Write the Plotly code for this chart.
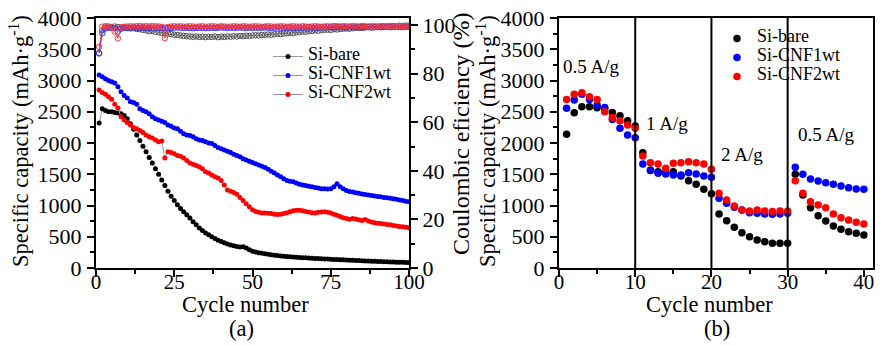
import plotly.graph_objects as go

# ---------------- data: panel (a) ----------------
cycles_a = list(range(1, 101))

cap_bare = [2320, 2550, 2520, 2500, 2500, 2490, 2480, 2470, 2440, 2390,
            2310, 2220, 2130, 2040, 1950, 1860, 1770, 1680, 1590, 1500,
            1410, 1320, 1230, 1150, 1080, 1010, 950, 900, 850, 800,
            740, 690, 640, 600, 560, 530, 500, 470, 445, 425,
            405, 385, 368, 355, 345, 335, 340, 320, 290, 268,
            255, 245, 235, 228, 220, 212, 205, 198, 192, 188,
            184, 180, 176, 172, 168, 165, 162, 160, 156, 152,
            150, 147, 145, 142, 140, 137, 135, 132, 130, 128,
            125, 123, 120, 118, 115, 113, 111, 109, 106, 104,
            102, 100, 98, 96, 95, 93, 91, 90, 88, 86]

cap_cnf1 = [3090, 3060, 3030, 3000, 2980, 2960, 2900, 2820, 2760, 2720,
            2660, 2650, 2620, 2550, 2520, 2500, 2470, 2420, 2390, 2370,
            2350, 2330, 2290, 2270, 2240, 2230, 2190, 2150, 2130, 2120,
            2100, 2070, 2050, 2040, 2020, 2000, 1990, 1960, 1930, 1910,
            1890, 1870, 1850, 1820, 1800, 1780, 1750, 1730, 1710, 1690,
            1670, 1650, 1630, 1610, 1580, 1550, 1520, 1490, 1460, 1430,
            1400, 1390, 1380, 1360, 1340, 1330, 1320, 1310, 1300, 1290,
            1280, 1270, 1270, 1265, 1270, 1300, 1350, 1300, 1270, 1240,
            1225, 1215, 1205, 1195, 1185, 1175, 1168, 1160, 1152, 1145,
            1140, 1130, 1125, 1118, 1110, 1100, 1090, 1080, 1070, 1060]

cap_cnf2 = [2850, 2810, 2780, 2740, 2700, 2620, 2560, 2420, 2370, 2330,
            2290, 2250, 2230, 2200, 2170, 2130, 2100, 2080, 2050, 2020,
            2030, 1760, 1860, 1850, 1830, 1800, 1790, 1760, 1720, 1680,
            1660, 1640, 1620, 1590, 1540, 1520, 1490, 1460, 1440, 1400,
            1330, 1250, 1230, 1210, 1180, 1130, 1080, 1030, 980, 930,
            905, 890, 880, 880, 875, 870, 860, 855, 860, 870,
            885, 900, 915, 925, 925, 915, 905, 895, 885, 880,
            890, 895, 900, 890, 880, 860, 845, 825, 805, 790,
            780, 790, 785, 770, 760, 775, 750, 735, 725, 715,
            710, 705, 695, 690, 680, 670, 665, 660, 650, 645]

ce_bare = [88.5, 97.8, 99.0, 99.3, 99.0, 99.4, 99.2, 98.9, 99.0, 98.8,
           98.6, 98.7, 98.4, 98.3, 98.0, 97.8, 97.5, 97.6, 97.2, 97.0,
           96.8, 96.6, 96.5, 96.3, 96.0, 95.9, 95.7, 95.5, 95.4, 95.3,
           95.2, 95.3, 95.1, 95.2, 95.0, 95.2, 95.1, 95.3, 95.0, 95.2,
           95.1, 95.3, 95.2, 95.4, 95.3, 95.5, 95.4, 95.6, 95.5, 95.7,
           95.8, 95.7, 95.9, 96.0, 96.1, 96.0, 96.2, 96.4, 96.3, 96.5,
           96.6, 96.8, 96.7, 97.0, 97.1, 97.3, 97.2, 97.5, 97.6, 97.8,
           97.7, 97.9, 98.0, 98.1, 98.0, 98.3, 98.2, 98.4, 98.5, 98.6,
           98.5, 98.7, 98.8, 98.9, 98.8, 99.0, 99.1, 99.0, 99.2, 99.3,
           99.2, 99.4, 99.3, 99.5, 99.6, 99.4, 99.7, 99.6, 99.8, 99.7]

ce_cnf1 = [88.3, 96.6, 98.6, 98.8, 98.9, 98.7, 97.3, 98.5, 98.8, 98.9,
           98.9, 99.0, 98.8, 98.9, 99.0, 98.9, 98.8, 98.9, 99.0, 98.9,
           98.8, 98.9, 98.7, 98.8, 98.9, 99.0, 98.9, 98.8, 98.9, 98.8,
           98.7, 98.8, 98.9, 98.8, 98.7, 98.8, 98.9, 98.8, 98.9, 99.0,
           98.9, 98.8, 98.9, 98.8, 98.9, 99.0, 98.9, 98.8, 98.9, 98.8,
           98.9, 98.8, 98.9, 99.0, 98.9, 98.8, 98.9, 99.0, 98.9, 98.8,
           98.9, 99.0, 98.9, 98.8, 99.0, 98.9, 99.0, 99.1, 99.0, 98.9,
           99.0, 99.1, 99.0, 99.2, 99.1, 99.0, 99.1, 99.2, 99.1, 99.0,
           99.1, 99.2, 99.1, 99.0, 99.2, 99.1, 99.2, 99.0, 99.1, 99.2,
           99.1, 99.2, 99.3, 99.1, 99.2, 99.3, 99.2, 99.1, 99.2, 99.3]

ce_cnf2 = [91.0, 99.3, 99.5, 99.4, 99.2, 97.3, 94.5, 99.0, 99.3, 99.4,
           99.5, 99.4, 99.5, 99.6, 99.4, 99.5, 99.4, 99.6, 99.5, 99.4,
           99.3, 94.6, 99.2, 99.4, 99.5, 99.4, 99.5, 99.3, 99.4, 99.5,
           99.4, 99.3, 99.4, 99.5, 99.3, 99.4, 99.5, 99.4, 99.3, 99.5,
           99.4, 99.3, 99.4, 99.5, 99.4, 99.3, 99.5, 99.4, 99.3, 99.4,
           99.5, 99.4, 99.3, 99.4, 99.5, 99.4, 99.3, 99.4, 99.5, 99.4,
           99.3, 99.4, 99.5, 99.4, 99.3, 99.5, 99.4, 99.3, 99.4, 99.5,
           99.4, 99.3, 99.4, 99.5, 99.4, 99.6, 99.5, 99.4, 99.6, 99.5,
           99.4, 99.6, 99.5, 99.4, 99.6, 99.5, 99.4, 99.6, 99.5, 99.4,
           99.6, 99.5, 99.4, 99.6, 99.5, 99.4, 99.6, 99.5, 99.4, 99.5]

# ---------------- data: panel (b) ----------------
cycles_b = list(range(1, 41))
rate_bare = [2140, 2485, 2580, 2580, 2565, 2545, 2490, 2437, 2357, 2272,
             1845, 1560, 1540, 1530, 1540, 1472, 1395, 1340, 1260, 1190,
             864, 757, 651, 565, 501, 448, 421, 395, 395, 395,
             1499, 1168, 965, 837, 752, 672, 619, 581, 555, 528]
rate_cnf1 = [2555, 2688, 2779, 2698, 2608, 2570, 2378, 2235, 2128, 2085,
             1664, 1568, 1515, 1504, 1488, 1488, 1525, 1504, 1472, 1451,
             1115, 1035, 971, 928, 885, 875, 864, 859, 864, 875,
             1611, 1499, 1424, 1392, 1365, 1339, 1312, 1285, 1264, 1259]
rate_cnf2 = [2698, 2779, 2805, 2741, 2698, 2501, 2410, 2357, 2288, 2235,
             1792, 1685, 1664, 1595, 1675, 1685, 1701, 1685, 1664, 1579,
             1195, 1088, 992, 928, 912, 928, 912, 902, 912, 912,
             1397, 1195, 1061, 1008, 965, 864, 805, 768, 731, 704]

series_names = ["Si-bare", "Si-CNF1wt", "Si-CNF2wt"]
series_colors = ["#000000", "#0000FF", "#FF0000"]
ce_colors = ["#555555", "#3333FF", "#FF3333"]
rate_labels = ["0.5 A/g", "1 A/g", "2 A/g", "0.5 A/g"]
rate_label_x = [4.2, 14.2, 24.0, 35.0]
rate_label_y = [3230, 2320, 1810, 2130]
rate_boundaries = [10, 20, 30]
panel_labels = ["(a)", "(b)"]
x_title = "Cycle number"
cap_title = "Specific capacity (mAh·g<sup>-1</sup>)"
ce_title = "Coulombic eficiency (%)"

FONT = "Liberation Serif"
W, H = 883, 346

def px_x(p):
    return p / W

def px_y(p):
    return 1 - p / H

fig = go.Figure()

caps = [cap_bare, cap_cnf1, cap_cnf2]
ces = [ce_bare, ce_cnf1, ce_cnf2]
rates = [rate_bare, rate_cnf1, rate_cnf2]

def legend_name(n):
    return '<span style="font-size:18px">' + n + '</span>'

# CE (open circles) on secondary axis
for name, col, ce in zip(series_names, ce_colors, ces):
    fig.add_trace(go.Scatter(
        x=cycles_a, y=ce, xaxis="x", yaxis="y2", mode="lines+markers",
        line=dict(color=col, width=0.8),
        marker=dict(symbol="circle-open", size=5.5, color=col, line=dict(width=1)),
        showlegend=False, name=name + " CE"))

# capacity (filled circles, gray lines)
for name, col, cap in zip(series_names, series_colors, caps):
    fig.add_trace(go.Scatter(
        x=cycles_a, y=cap, xaxis="x", yaxis="y", mode="lines+markers",
        line=dict(color="#999999", width=1),
        marker=dict(symbol="circle", size=5, color=col),
        name=legend_name(name), legend="legend"))

# rate capability
for name, col, r in zip(series_names, series_colors, rates):
    fig.add_trace(go.Scatter(
        x=cycles_b, y=r, xaxis="x3", yaxis="y3", mode="markers",
        marker=dict(symbol="circle", size=7.5, color=col),
        name=legend_name(name), legend="legend2"))

yfont = dict(family=FONT, size=22, color="black")
xfont = dict(family=FONT, size=21, color="black")

common = dict(showline=True, linecolor="black", linewidth=2.2, ticks="outside",
              ticklen=7, tickwidth=2, tickcolor="black", showgrid=False,
              zeroline=False, automargin=False, ticklabeloverflow="allow")

def minor(d):
    return dict(dtick=d, ticks="outside", ticklen=4, tickwidth=1.5,
                tickcolor="black", showgrid=False)

leg_font = dict(family=FONT, size=8, color="black")

fig.update_layout(
    width=W, height=H, margin=dict(l=0, r=0, t=0, b=0),
    paper_bgcolor="white", plot_bgcolor="white",
    font=dict(family=FONT, color="black"),
    xaxis=dict(domain=[px_x(96), px_x(409)], range=[0, 100], tick0=0, dtick=25,
               minor=minor(12.5), mirror=True, anchor="y", tickfont=xfont,
               ticklabelstandoff=-13, **common),
    yaxis=dict(domain=[px_y(268), px_y(18)], range=[0, 4000], tick0=0, dtick=500,
               minor=minor(250), anchor="x", ticklabelstandoff=1, tickfont=yfont,
               **common),
    yaxis2=dict(overlaying="y", side="right", anchor="x", range=[0, 102.9],
                tick0=0, dtick=20, minor=minor(10), tickfont=yfont,
                **common),
    xaxis3=dict(domain=[px_x(559), px_x(873)], range=[0, 41.2], tick0=0, dtick=10,
                minor=minor(5), mirror=True, anchor="y3", tickfont=xfont,
                ticklabelstandoff=-13, **common),
    yaxis3=dict(domain=[px_y(268), px_y(18)], range=[0, 4000], tick0=0, dtick=500,
                minor=minor(250), mirror=True, anchor="x3", ticklabelstandoff=1,
                tickfont=yfont, **common),
    legend=dict(x=px_x(268), y=px_y(42), xanchor="left", yanchor="top",
                bgcolor="rgba(0,0,0,0)", font=leg_font,
                itemwidth=30, tracegroupgap=0),
    legend2=dict(x=px_x(717), y=px_y(24), xanchor="left", yanchor="top",
                 bgcolor="rgba(0,0,0,0)", font=leg_font,
                 itemwidth=30, tracegroupgap=0),
)

for xb in rate_boundaries:
    fig.add_shape(type="line", xref="x3", yref="y3 domain", x0=xb, x1=xb, y0=0, y1=1,
                  line=dict(color="black", width=2))

for t, xx, yy in zip(rate_labels, rate_label_x, rate_label_y):
    fig.add_annotation(x=xx, y=yy, xref="x3", yref="y3", text=t, showarrow=False,
                       font=dict(family=FONT, size=19, color="black"))

def paper_text(text, xp, yp, size, angle=0):
    fig.add_annotation(x=px_x(xp), y=px_y(yp), xref="paper", yref="paper", text=text,
                       showarrow=False, xanchor="center", yanchor="middle",
                       textangle=angle, font=dict(family=FONT, size=size, color="black"))

# axis titles and panel labels
paper_text(x_title, 246, 304, 22.5)
paper_text(x_title, 709, 304, 22.5)
paper_text(panel_labels[0], 241, 328, 22.5)
paper_text(panel_labels[1], 717, 328, 22.5)
paper_text(cap_title, 19, 141, 22.5, -90)
paper_text(cap_title, 486, 141, 22.5, -90)
paper_text(ce_title, 461, 134, 24, -90)

# the page body has a default 8 px margin; remove it so the figure fills the window
fig.write_html("out.html", config={"displayModeBar": False},
               post_script="document.body.style.margin='0';document.body.style.padding='0';")
